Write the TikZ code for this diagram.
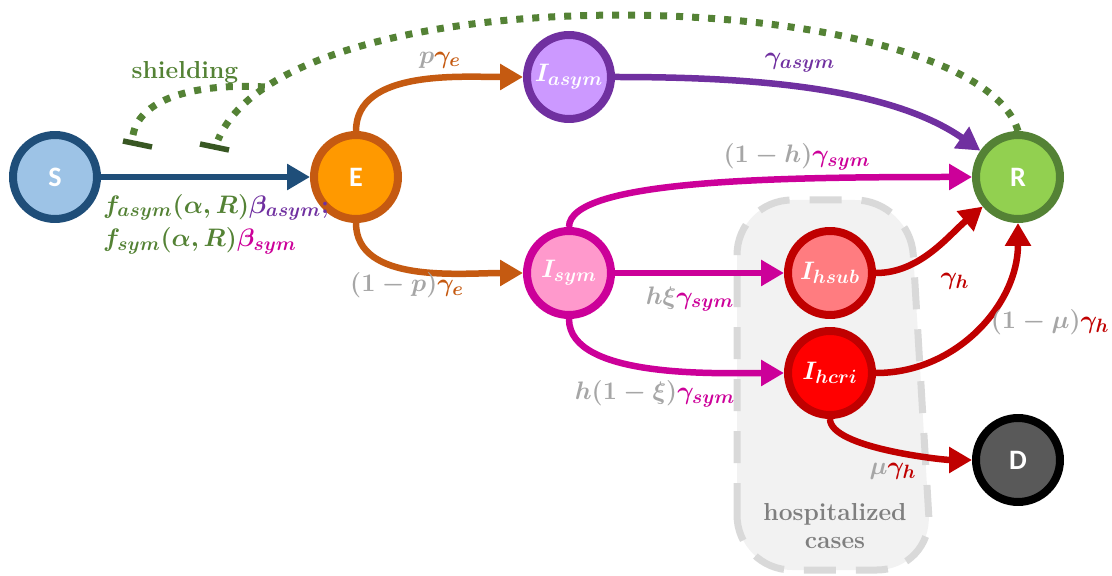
\documentclass[tikz,border=0pt]{standalone}
\usepackage{fontspec}
\setsansfont{Carlito}
\usepackage{amsmath,amssymb}
\usetikzlibrary{arrows.meta,positioning,calc}

\definecolor{sblue}{HTML}{9DC3E6}
\definecolor{sdark}{HTML}{1F4E79}
\definecolor{eorange}{HTML}{FF9900}
\definecolor{edark}{HTML}{C55A11}
\definecolor{alav}{HTML}{CC99FF}
\definecolor{apurple}{HTML}{7030A0}
\definecolor{ypink}{HTML}{FF99CC}
\definecolor{ymag}{HTML}{CC0099}
\definecolor{rgreen}{HTML}{92D050}
\definecolor{rdark}{HTML}{548235}
\definecolor{hsubred}{HTML}{FF7C80}
\definecolor{hcrired}{HTML}{FF0000}
\definecolor{hdark}{HTML}{C00000}
\definecolor{dgray}{HTML}{595959}
\definecolor{lgray}{HTML}{A6A6A6}
\definecolor{tgray}{HTML}{7F7F7F}
\definecolor{regfill}{HTML}{F2F2F2}
\definecolor{regline}{HTML}{D9D9D9}
\definecolor{bargreen}{HTML}{385723}

\begin{document}
\begin{tikzpicture}[
    x=0.02cm, y=0.02cm,
    comp/.style={circle, draw, line width=0.16cm, minimum size=1.68cm, inner sep=0pt, text=white, font=\fontsize{16}{19}\selectfont\sffamily\bfseries},
    compm/.style={comp, font=\fontsize{15}{18}\selectfont\boldmath},
    arr/.style={-{Triangle[length=0.46cm,width=0.5cm]}, line width=0.13cm},
    rate/.style={font=\fontsize{15}{19}\selectfont\boldmath, inner sep=1pt},
    region/.style={draw=regline, fill=regfill, line width=0.14cm, dash pattern=on 0.64cm off 0.4cm, rounded corners=1.1cm},
    shield/.style={draw=rdark, line width=0.14cm, dash pattern=on 0.14cm off 0.18cm},
    tbar/.style={draw=bargreen, line width=0.11cm},
]
\useasboundingbox (0,0) rectangle (1112,575);

% Hospitalized cases
\draw[region] (737,5) -- (737,375) -- (910,375) -- (932,5) -- cycle;
\node[font=\fontsize{14}{16}\selectfont\bfseries, text=tgray, align=center] (hosp) at (835,49) {hospitalized\\cases};

% Compartments
\node[comp, fill=sblue, draw=sdark] (S) at (55,398) {S};
\node[comp, fill=eorange, draw=edark] (E) at (356,398) {E};
\node[compm, fill=alav, draw=apurple] (Iasym) at (569,498) {$I_{asym}$};
\node[compm, fill=ypink, draw=ymag] (Isym) at (569,302) {$I_{sym}$};
\node[comp, fill=rgreen, draw=rdark] (R) at (1018,398) {R};
\node[compm, fill=hsubred, draw=hdark] (Ihsub) at (830,302) {$I_{hsub}$};
\node[compm, fill=hcrired, draw=hdark] (Ihcri) at (830,202) {$I_{hcri}$};
\node[comp, fill=dgray, draw=black] (D) at (1018,115) {D};

% Flows
\draw[arr, sdark] (S) -- (E);
\draw[arr, edark] (E) to[out=90, in=180, looseness=0.9] (Iasym);
\draw[arr, edark] (E) to[out=-90, in=180, looseness=0.9] (Isym);
\draw[arr, apurple] (Iasym) to[out=0, in=145, looseness=0.8] (R);
\draw[arr, ymag] (Isym) to[out=90, in=180, out looseness=0.3, in looseness=1.2] (R);
\draw[arr, ymag] (Isym) -- (Ihsub);
\draw[arr, ymag] (Isym) to[out=-90, in=180, looseness=0.7] (Ihcri);
\draw[arr, hdark] (Ihsub) to[out=0, in=220, looseness=0.9] (R);
\draw[arr, hdark] (Ihcri) to[out=0, in=-90, looseness=1] (R);
\draw[arr, hdark] (Ihcri) to[out=-90, in=180, out looseness=0.5, in looseness=0.5] (D);

% Rates
\node[rate, align=left, anchor=west] (fSE) at (101,351) {${\color{rdark}f_{asym}(\alpha,R)}{\color{apurple}\beta_{asym};}$\\${\color{rdark}f_{sym}(\alpha,R)}{\color{ymag}\beta_{sym}}$};
\node[rate] (lEA) at (440,515) {${\color{lgray}p}{\color{edark}\gamma_e}$};
\node[rate] (lEI) at (407,290) {${\color{lgray}(1-p)}{\color{edark}\gamma_e}$};
\node[rate] (lAR) at (800,512) {${\color{apurple}\gamma_{asym}}$};
\node[rate] (lSR) at (797,418) {${\color{lgray}(1-h)}{\color{ymag}\gamma_{sym}}$};
\node[rate] (lSH) at (690,276) {${\color{lgray}h\xi}{\color{ymag}\gamma_{sym}}$};
\node[rate] (lSC) at (655,181) {${\color{lgray}h(1-\xi)}{\color{ymag}\gamma_{sym}}$};
\node[rate] (lHR) at (955,294) {${\color{hdark}\gamma_h}$};
\node[rate] (lCR) at (1050,253) {${\color{lgray}(1-\mu)}{\color{hdark}\gamma_h}$};
\node[rate] (lCD) at (893,104) {${\color{lgray}\mu}{\color{hdark}\gamma_h}$};

% Shielding
\coordinate (shA) at (133,440);
\coordinate (shB) at (218,435);
\draw[shield] (R.north) .. controls (975,590) and (290,610) .. (shB);
\draw[shield] (shA) .. controls (140,478) and (200,492) .. (265,488);
\draw[tbar] (123,434) -- (152,428);
\draw[tbar] (200,431) -- (229,425);
\node[font=\fontsize{14}{16}\selectfont\bfseries, text=rdark] (shlbl) at (185,503) {shielding};
\end{tikzpicture}
\end{document}
